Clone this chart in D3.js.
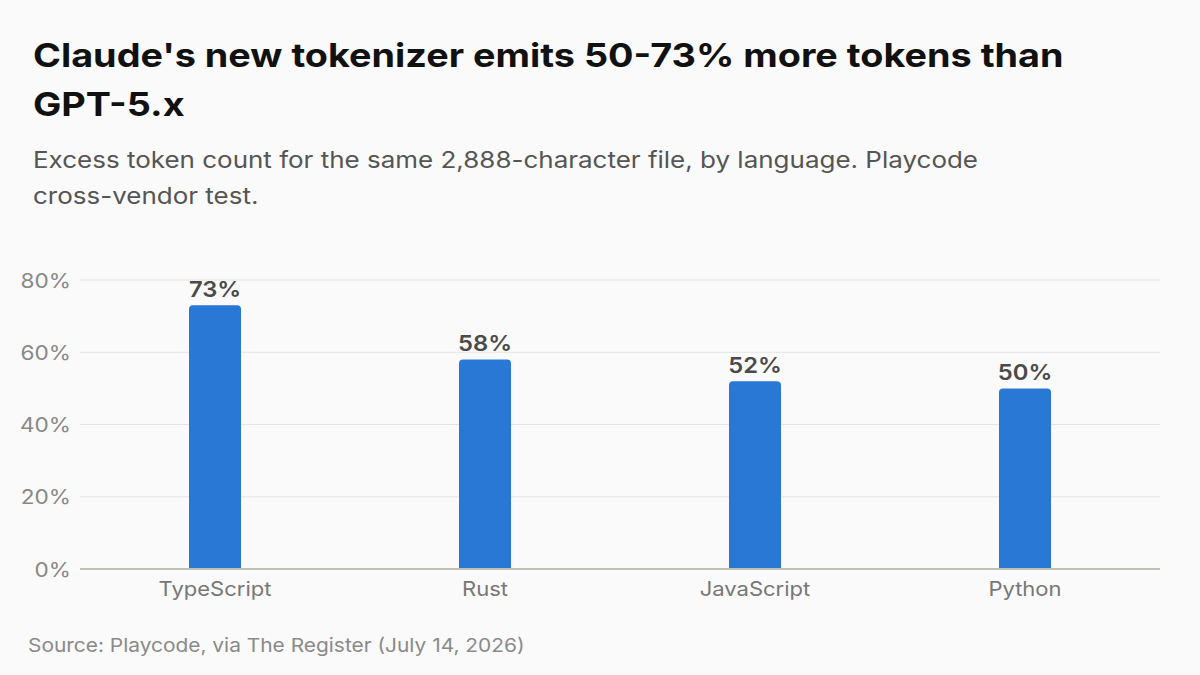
<!DOCTYPE html>
<html><head><meta charset="utf-8">
<script src="https://cdn.jsdelivr.net/npm/d3@7"></script>
<style>
html,body{margin:0;padding:0;background:#fafafa;}
svg{display:block;font-family:Inter, "Noto Sans", sans-serif;}
</style></head>
<body>
<svg id="c" width="1200" height="675"></svg>
<script>
const categories = ["TypeScript", "Rust", "JavaScript", "Python"];
const values = [73, 58, 52, 50];
const yTicks = [0, 20, 40, 60, 80];
const titleLines = ["Claude's new tokenizer emits 50-73% more tokens than", "GPT-5.x"];
const subtitleLines = ["Excess token count for the same 2,888-character file, by language. Playcode", "cross-vendor test."];
const sourceText = "Source: Playcode, via The Register (July 14, 2026)";

const svg = d3.select("#c");
svg.append("rect").attr("width",1200).attr("height",675).attr("fill","#fafafa");

const m = {left:80, right:1160, top:280, bottom:569};
const x = d3.scaleBand().domain(categories).range([m.left, m.right]).padding(0);
const y = d3.scaleLinear().domain([0,80]).range([m.bottom, m.top]);
const barW = 52;
const SX = 1.13;

// title
svg.append("g").selectAll("text").data(titleLines).join("text")
  .attr("transform",(d,i)=>`translate(33,${67+i*49}) scale(${1.145},1)`)
  .attr("font-size",33).attr("font-weight",700).attr("fill","#111")
  .text(d=>d);
svg.append("g").selectAll("text").data(subtitleLines).join("text")
  .attr("transform",(d,i)=>`translate(33,${168+i*36}) scale(${SX},1)`)
  .attr("font-size",23).attr("fill","#555")
  .text(d=>d);

// grid
svg.append("g").selectAll("line").data(yTicks.filter(t=>t>0)).join("line")
  .attr("x1",m.left).attr("x2",m.right)
  .attr("y1",d=>y(d)).attr("y2",d=>y(d))
  .attr("stroke","#e4e4e0").attr("stroke-width",1);

// y axis
const yAxis = d3.axisLeft(y).tickValues(yTicks).tickFormat(d=>d+"%").tickSize(0).tickPadding(9);
const ga = svg.append("g").attr("transform",`translate(${m.left},0)`).call(yAxis);
ga.select(".domain").remove();
ga.selectAll("text").attr("font-size",20).attr("fill","#888").attr("x",0)
  .attr("transform",`translate(-9,0) scale(${SX},1)`)
  .attr("font-family","Inter, 'Noto Sans', sans-serif").attr("dy","0.35em");

// bars (rounded top)
function barPath(cx, top, bottom, w, r){
  const l = cx - w/2, rr = Math.min(r, (bottom-top));
  return `M${l},${bottom}V${top+rr}Q${l},${top} ${l+rr},${top}H${l+w-rr}Q${l+w},${top} ${l+w},${top+rr}V${bottom}Z`;
}
svg.append("g").selectAll("path").data(categories).join("path")
  .attr("d",(d,i)=>barPath(x(d)+x.bandwidth()/2, y(values[i]), y(0), barW, 4))
  .attr("fill","#2a78d6");

// value labels
svg.append("g").selectAll("text").data(categories).join("text")
  .attr("transform",(d,i)=>`translate(${x(d)+x.bandwidth()/2},${y(values[i])-8}) scale(${1.08},1)`)
  .attr("text-anchor","middle").attr("font-size",22).attr("font-weight",600).attr("fill","#4a4a4a")
  .text((d,i)=>values[i]+"%");

// baseline
svg.append("line").attr("x1",m.left).attr("x2",m.right).attr("y1",y(0)).attr("y2",y(0))
  .attr("stroke","#c0c0b6").attr("stroke-width",2);

// x axis labels
const xAxis = d3.axisBottom(x).tickSize(0).tickPadding(13);
const gx = svg.append("g").attr("transform",`translate(0,${y(0)})`).call(xAxis);
gx.select(".domain").remove();
gx.selectAll("text").attr("font-size",20).attr("fill","#777")
  .attr("transform",`scale(1.1,1)`)
  .attr("font-family","Inter, 'Noto Sans', sans-serif");

svg.append("text").attr("transform",`translate(28,652) scale(${1.1},1)`).attr("font-size",19).attr("fill","#8a8a8a")
  .text(sourceText);
</script>
</body></html>
